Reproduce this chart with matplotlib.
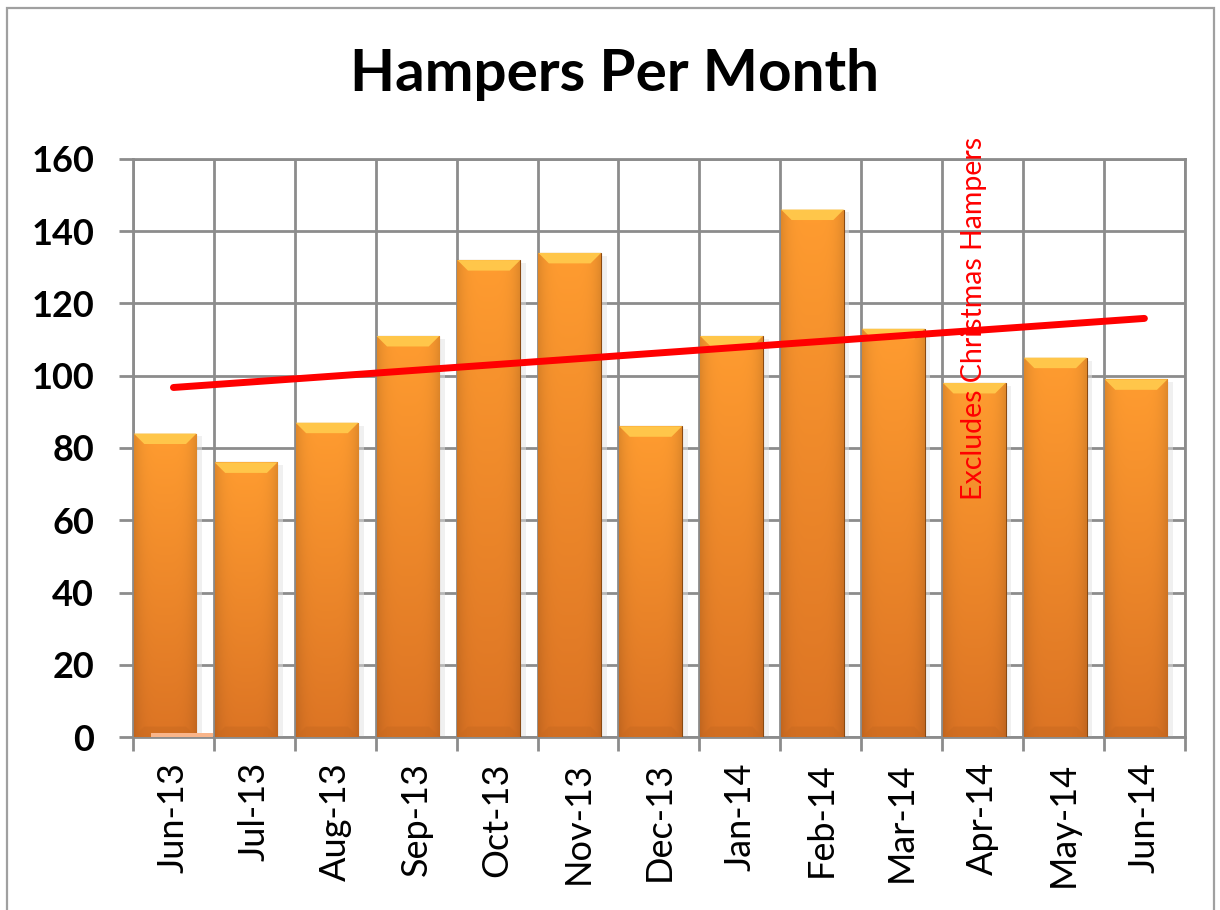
import numpy as np
import matplotlib
matplotlib.use("Agg")
import matplotlib.pyplot as plt
from matplotlib.patches import Rectangle, Polygon
from matplotlib.colors import to_rgb

plt.rcParams["font.family"] = ["Lato", "DejaVu Sans"]

months = ["Jun-13", "Jul-13", "Aug-13", "Sep-13", "Oct-13", "Nov-13", "Dec-13",
          "Jan-14", "Feb-14", "Mar-14", "Apr-14", "May-14", "Jun-14"]
hampers = [84, 76, 87, 111, 132, 134, 86, 111, 146, 113, 98, 105, 99]
christmas = [1, 0, 0, 0, 0, 0, 0, 0, 0, 0, 0, 0, 0]
yticks = [0, 20, 40, 60, 80, 100, 120, 140, 160]

GRID = "#8c8c8c"
TOP_C, BOT_C = to_rgb("#ff9c30"), to_rgb("#dc7424")
EDGE = "#8a4a12"

fig = plt.figure(figsize=(12.2, 9.1), dpi=100)
ax = fig.add_axes([0.109, 0.1901, 0.8622, 0.6352])
x = np.arange(len(months))

ax.set_xlim(-0.5, len(months) - 0.5)
ax.set_ylim(0, 160)

# gradient image for the bar fill (vertical light->dark, darker near the sides)
h = np.linspace(0, 1, 200)[:, None]
w = np.linspace(-1, 1, 60)[None, :]
side = 1 - 0.12 * np.abs(w) ** 4
grad = np.empty((200, 60, 3))
for k in range(3):
    grad[:, :, k] = (TOP_C[k] * (1 - h) + BOT_C[k] * h) * side

bw = 0.775
bars = ax.bar(x - 0.49, hampers, width=bw, align="edge", color="none",
              edgecolor=EDGE, linewidth=0.8, zorder=3)
for b in bars:
    l, bt, ww, hh = b.get_x(), b.get_y(), b.get_width(), b.get_height()
    # soft shadow
    ax.add_patch(Rectangle((l + 0.03, bt), ww + 0.04, hh - 0.8, color="#e3e3e3",
                           alpha=0.5, lw=0, zorder=2))
    im = ax.imshow(grad, extent=(l, l + ww, bt, bt + hh), aspect="auto",
                   origin="upper", zorder=3, interpolation="bilinear")
    im.set_clip_path(b)
    dx, dy = 0.13, 2.9
    ax.add_patch(Polygon([(l, bt + hh), (l + ww, bt + hh), (l + ww - dx, bt + hh - dy),
                          (l + dx, bt + hh - dy)], closed=True, color="#ffc64a",
                         lw=0, zorder=3.5))
    ax.add_patch(Polygon([(l, bt), (l + ww, bt), (l + ww - dx, bt + dy),
                          (l + dx, bt + dy)], closed=True, color="#c96a20",
                         alpha=0.5, lw=0, zorder=3.5))

ax.bar(x - 0.28, christmas, width=bw, align="edge", color="#f9b58a",
       linewidth=0, zorder=4)

# linear trend line
coef = np.polyfit(x, hampers, 1)
ax.plot(x, np.polyval(coef, x), color="#ff0000", lw=5, solid_capstyle="round", zorder=5)

ax.text(9.9, 65.6, "Excludes Christmas Hampers", rotation=90, color="#ff0000",
        fontsize=20.5, ha="center", va="bottom", zorder=6)

ax.set_yticks(yticks)
ax.set_yticklabels([str(v) for v in yticks], fontsize=26, fontweight="bold")
ax.set_xticks(x)
ax.set_xticklabels(months, rotation=90, fontsize=26)
ax.set_xticks(np.arange(len(months) + 1) - 0.5, minor=True)
ax.tick_params(axis="x", which="major", length=0, pad=18)
ax.tick_params(axis="x", which="minor", length=10, width=2, color=GRID, direction="out")
ax.tick_params(axis="y", length=10, width=2, color=GRID, direction="out", pad=18)
ax.grid(True, which="major", axis="y", color=GRID, lw=2, zorder=0)
ax.grid(True, which="minor", axis="x", color=GRID, lw=2, zorder=0)
ax.set_axisbelow(True)
for s in ax.spines.values():
    s.set_color(GRID)
    s.set_linewidth(2)

fig.text(0.504, 0.918, "Hampers Per Month", fontsize=42, fontweight="bold",
         ha="center", va="center")
fig.patches.append(Rectangle((7 / 1220, -0.05), 1207 / 1220, 1 - 8 / 910 + 0.05,
                             transform=fig.transFigure, fill=False,
                             edgecolor="#a0a0a0", lw=1.6))

fig.savefig("out.png", dpi=100)
